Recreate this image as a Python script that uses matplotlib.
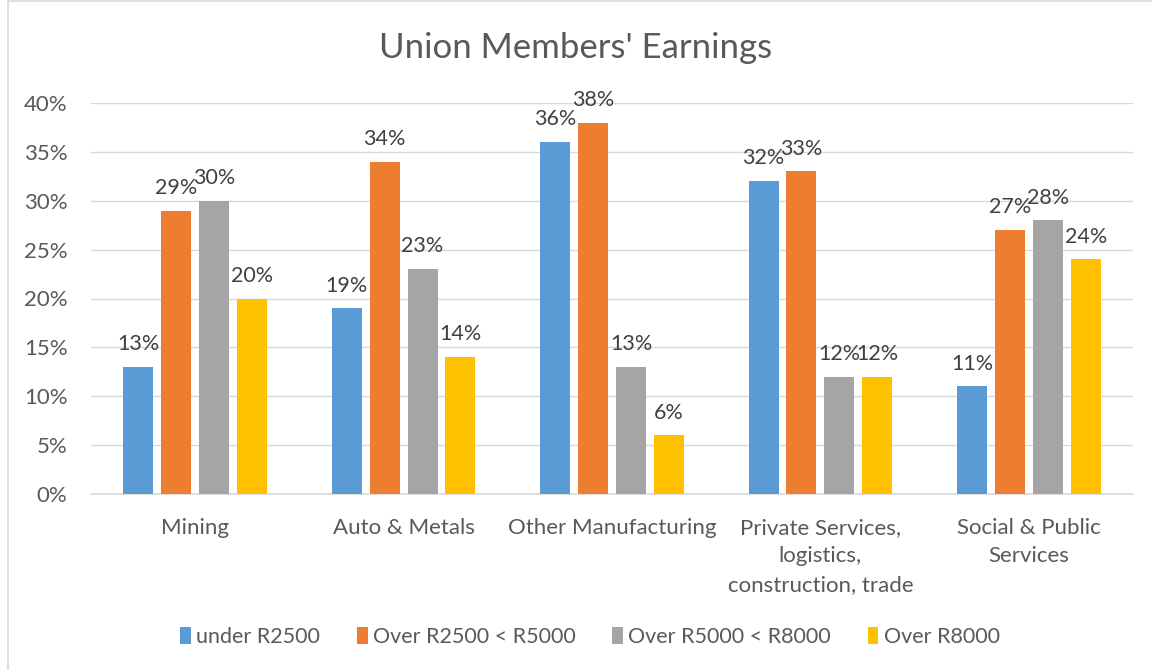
import matplotlib
matplotlib.use("Agg")
import matplotlib.pyplot as plt
from matplotlib.patches import Rectangle
import numpy as np

categories = ["Mining", "Auto & Metals", "Other Manufacturing",
              "Private Services,\nlogistics,\nconstruction, trade",
              "Social & Public\nServices"]
series_names = ["under R2500", "Over R2500 < R5000", "Over R5000 < R8000", "Over R8000"]
under_r2500 = [13, 19, 36, 32, 11]
r2500_r5000 = [29, 34, 38, 33, 27]
r5000_r8000 = [30, 23, 13, 12, 28]
over_r8000 = [20, 14, 6, 12, 24]
colors = ["#5b9bd5", "#ed7d31", "#a5a5a5", "#ffc000"]

plt.rcParams['font.family'] = ['Lato', 'DejaVu Sans']
txt = "#595959"

fig = plt.figure(figsize=(11.52, 6.70), dpi=100)
W, H = 1152, 670
ax = fig.add_axes([91 / W, 1 - 494 / H, (1133 - 91) / W, (494 - 103) / H])

# chart frame
fig.patches.append(Rectangle((8 / W, -0.01), (1160 - 8) / W, (670 - 4 + 10) / H,
                             transform=fig.transFigure, fill=False,
                             edgecolor="#d9d9d9", linewidth=1.2))

x = np.arange(len(categories))
width = 0.144
step = 0.182
all_series = [under_r2500, r2500_r5000, r5000_r8000, over_r8000]
for i, (vals, name, c) in enumerate(zip(all_series, series_names, colors)):
    offs = (i - 1.5) * step
    bars = ax.bar(x + offs, vals, width, color=c, label=name, zorder=3)
    for b, v in zip(bars, vals):
        ax.text(b.get_x() + b.get_width() / 2, v + 1.3, f"{v}%", ha="center",
                va="bottom", fontsize=15.5, color="#404040")

ax.set_xlim(-0.5, 4.5)
ax.set_ylim(0, 40)
ax.set_yticks(range(0, 41, 5))
ax.set_yticklabels([f"{v}%" for v in range(0, 41, 5)])
ax.yaxis.grid(True, color="#d9d9d9", linewidth=1)
ax.set_axisbelow(True)
for s in ["top", "right", "left"]:
    ax.spines[s].set_visible(False)
ax.spines["bottom"].set_color("#d9d9d9")
ax.spines["bottom"].set_linewidth(1.2)
ax.tick_params(axis="y", length=0, pad=17, labelsize=16, labelcolor=txt)
ax.tick_params(axis="x", length=0, pad=17, labelsize=16, labelcolor=txt)
ax.set_xticks(x)
ax.set_xticklabels(categories, linespacing=1.55, va="top")

fig.text(0.5, 1 - 48 / H, "Union Members' Earnings", ha="center", va="center",
         fontsize=25, color=txt)

fig.legend(loc="center", bbox_to_anchor=(590 / W, 1 - 637 / H), ncol=4, frameon=False,
           fontsize=15.5, labelcolor=txt, handlelength=0.5, handleheight=0.8,
           handletextpad=0.25, columnspacing=1.7)

fig.savefig("out.png", dpi=100)
